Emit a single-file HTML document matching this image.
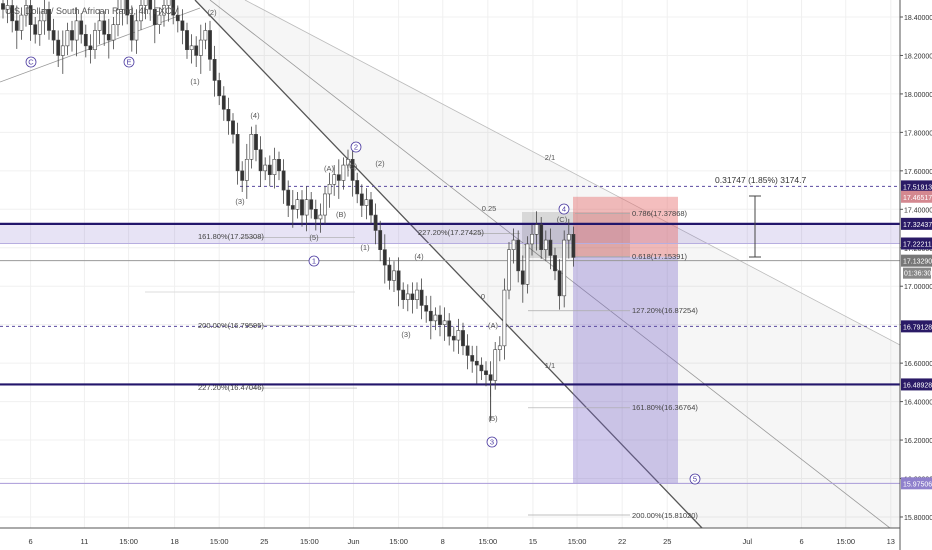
<!DOCTYPE html>
<html><head><meta charset="utf-8"><style>
html,body{margin:0;padding:0;background:#fff;}
svg{display:block;font-family:"Liberation Sans",sans-serif;}
</style></head><body>
<svg id="chart" width="932" height="550" xmlns="http://www.w3.org/2000/svg"></svg>
<script>
const closes=[18.44,18.46,18.38,18.33,18.41,18.46,18.36,18.31,18.38,18.44,18.33,
18.28,18.20,18.25,18.33,18.28,18.38,18.31,18.25,18.23,18.33,18.38,18.31,
18.28,18.36,18.44,18.49,18.41,18.28,18.38,18.46,18.49,18.44,18.36,18.41,
18.46,18.49,18.41,18.38,18.33,18.23,18.25,18.20,18.28,18.33,18.18,18.07,
17.99,17.92,17.86,17.79,17.60,17.55,17.66,17.79,17.71,17.60,17.63,17.58,
17.66,17.60,17.50,17.42,17.40,17.45,17.37,17.45,17.40,17.35,17.37,17.48,
17.53,17.58,17.55,17.63,17.66,17.55,17.48,17.42,17.45,17.37,17.29,17.19,
17.11,17.03,17.08,16.98,16.93,16.96,16.93,16.98,16.90,16.87,16.82,16.85,
16.80,16.82,16.74,16.72,16.77,16.69,16.64,16.61,16.59,16.56,16.54,16.51,
16.67,16.69,16.98,17.19,17.24,17.08,17.01,17.22,17.27,17.32,17.19,17.24,
17.16,17.08,16.95,17.24,17.27,17.15];
const wicks=[0.04,0.06,0.05,0.08,0.04,0.05,0.07,0.04,0.05,0.06];
const priceTicks=[18.4,18.2,18.0,17.8,17.6,17.4,17.2,17.0,16.8,16.6,16.4,16.2,16.0,15.8];
const timeLabels=["6","11","15:00","18","15:00","25","15:00","Jun","15:00","8","15:00","15","15:00","22","25","Jul","6","15:00","13"];
const timeIdx=[6,17.7,27.3,37.3,47,56.8,66.6,76.2,86,95.6,105.4,115.2,124.8,134.6,144.4,161.8,173.6,183.2,193];
const levels=[17.51913,17.46517,17.32437,17.22211,17.1329,16.79128,16.48928,15.97506];

const svg=document.getElementById('chart');
const NS='http://www.w3.org/2000/svg';
const PW=900;
const y=p=>17+(18.4-p)*192.3;
const xi=i=>3+i*4.6;
function mk(tag,attrs,name,parent){const e=document.createElementNS(NS,tag);for(const k in attrs)e.setAttribute(k,attrs[k]);


(parent||svg).appendChild(e);return e;}
function txt(s,x,yy,name,opt){const t=mk('text',Object.assign({x:x,y:yy,'font-size':8,fill:'#333'},opt||{}),name);t.textContent=s;return t;}

// grid
priceTicks.forEach(p=>mk('line',{x1:0,x2:PW,y1:y(p),y2:y(p),stroke:'#f0f0f0'},'grid-h'));
timeIdx.forEach(t=>mk('line',{x1:xi(t),x2:xi(t),y1:0,y2:528,stroke:'#f0f0f0'},'grid-v'));

// fan shading
mk('polygon',{points:'245,0 900,345 900,528 702,528 195,0',fill:'rgba(0,0,0,0.035)'},'fan-shade');
mk('line',{x1:195,y1:0,x2:702,y2:528,stroke:'#555','stroke-width':1.3},'trend-line-main');
mk('line',{x1:210,y1:0,x2:890,y2:528,stroke:'#999','stroke-width':0.8},'fan-line-1');
mk('line',{x1:245,y1:0,x2:900,y2:345,stroke:'#bbb','stroke-width':0.8},'fan-line-2');
mk('line',{x1:0,y1:82,x2:200,y2:8,stroke:'#999','stroke-width':0.8},'rising-line');

// band
mk('rect',{x:0,y:y(17.32437),width:PW,height:y(17.22211)-y(17.32437),fill:'rgba(120,100,200,0.18)'},'resistance-band');
// boxes
mk('rect',{x:522,y:212,width:108,height:46,fill:'rgba(0,0,0,0.12)'},'wave4-box');
mk('rect',{x:573,y:y(17.465),width:105,height:y(17.153)-y(17.465),fill:'rgba(230,110,110,0.45)'},'stop-zone');
mk('rect',{x:573,y:y(17.153),width:105,height:y(15.975)-y(17.153),fill:'rgba(120,100,200,0.35)'},'target-zone');

// level lines
mk('line',{x1:240,x2:PW,y1:y(17.51913),y2:y(17.51913),stroke:'#5a4aa0','stroke-dasharray':'3,3'},'level-17-519');
mk('line',{x1:0,x2:PW,y1:y(16.79128),y2:y(16.79128),stroke:'#5a4aa0','stroke-dasharray':'3,3'},'level-16-791');
mk('line',{x1:0,x2:PW,y1:y(17.1329),y2:y(17.1329),stroke:'#999'},'current-price-line');
mk('line',{x1:0,x2:PW,y1:y(15.97506),y2:y(15.97506),stroke:'#a99ad8'},'level-15-975');
mk('line',{x1:0,x2:PW,y1:y(17.32437),y2:y(17.32437),stroke:'#23166b','stroke-width':2.2},'level-17-324');
mk('line',{x1:0,x2:PW,y1:y(16.48928),y2:y(16.48928),stroke:'#23166b','stroke-width':2.2},'level-16-489');
mk('line',{x1:0,x2:PW,y1:y(17.22211),y2:y(17.22211),stroke:'#b7aee0'},'level-17-222');

// fib guide lines
[[17.25308,240,355],[16.79595,245,355],[16.47046,245,357],[17.27425,470,520],[17.37868,575,630],[17.15391,575,630],[16.87254,528,630],[16.36764,528,630],[15.81020,528,630]].forEach(a=>mk('line',{x1:a[1],x2:a[2],y1:y(a[0]),y2:y(a[0]),stroke:'#aaa','stroke-width':0.7},'fib-line'));
mk('line',{x1:145,x2:355,y1:y(16.97),y2:y(16.97),stroke:'#ddd'},'fib-zero-line');

// candles
closes.forEach((c,i)=>{const o=i?closes[i-1]:c+0.03;const w=wicks[i%wicks.length];
 const hi=Math.max(o,c)+w, lo=Math.min(o,c)-w*1.2;const x=xi(i);
 mk('line',{x1:x,x2:x,y1:y(hi),y2:y(lo),stroke:'#444','stroke-width':0.8},'candle-wick');
 const top=y(Math.max(o,c)),h=Math.max(1,Math.abs(y(o)-y(c)));
 mk('rect',{x:x-1.6,y:top,width:3.2,height:h,fill:c>=o?'#fff':'#333',stroke:'#444','stroke-width':0.6},'candle-body');
});
mk('line',{x1:xi(106),x2:xi(106),y1:y(16.51),y2:y(16.3),stroke:'#444'},'spike-wick');

// title
txt('U.S. Dollar / South African Rand, 4h, FXCM',5,14,'chart-title',{fill:'#555','font-size':9});

// labels
const labs=[['(2)',212,15],['(1)',195,84],['(4)',255,118],['(3)',240,204],['(A)',329,171],['(C)',352,169],['(2)',380,166],['(B)',341,217],['(5)',314,240],['(1)',365,250],['(4)',419,259],['(3)',406,337],['(A)',493,328],['(5)',493,421],['(C)',562,222],['0.25',489,211],['0',483,299],['2/1',550,160],['1/1',550,368]];
labs.forEach(l=>txt(l[0],l[1],l[2],'wave-label',{'font-size':7.5,fill:'#555','text-anchor':'middle'}));
[['161.80%(17.25308)',198,239],['227.20%(17.27425)',418,235],['200.00%(16.79595)',198,328],['227.20%(16.47046)',198,390],['0.786(17.37868)',632,216],['0.618(17.15391)',632,259],['127.20%(16.87254)',632,313],['161.80%(16.36764)',632,410],['200.00%(15.81020)',632,518]].forEach(l=>txt(l[0],l[1],l[2],'fib-label',{'font-size':7.5,fill:'#444'}));
[['C',31,62],['E',129,62],['2',356,147],['1',314,261],['3',492,442],['4',564,209],['5',695,479]].forEach(c=>{
 mk('circle',{cx:c[1],cy:c[2],r:5,fill:'#fff',stroke:'#4b3aa0','stroke-width':0.8},'wave-circle');
 txt(c[0],c[1],c[2]+2.7,'wave-circle-label',{'font-size':7.5,fill:'#4b3aa0','text-anchor':'middle'});});

// measure
mk('line',{x1:755,x2:755,y1:196,y2:257,stroke:'#444'},'measure-line');
mk('line',{x1:749,x2:761,y1:196,y2:196,stroke:'#444'},'measure-cap');
mk('line',{x1:749,x2:761,y1:257,y2:257,stroke:'#444'},'measure-cap');
txt('0.31747 (1.85%) 3174.7',715,183,'measure-label',{'font-size':8.5});

// axes
mk('rect',{x:0,y:528,width:932,height:22,fill:'#fff'},'time-axis-bg');
mk('rect',{x:PW,y:0,width:32,height:550,fill:'#fff'},'price-axis-bg');
mk('line',{x1:PW,x2:PW,y1:0,y2:550,stroke:'#555'},'price-axis-line');
mk('line',{x1:0,x2:PW,y1:528,y2:528,stroke:'#555'},'time-axis-line');
priceTicks.forEach(p=>{mk('line',{x1:PW,x2:PW+3,y1:y(p),y2:y(p),stroke:'#555'},'price-tick');
 txt(p.toFixed(5),PW+4,y(p)+3,'price-tick-label',{'font-size':7,fill:'#333'});});
timeLabels.forEach((s,k)=>txt(s,xi(timeIdx[k]),544,'time-tick-label',{'font-size':7.5,fill:'#333','text-anchor':'middle'}));
const boxCol=['#2a1a66','#d48890','#2a1a66','#2a1a66','#777','#2a1a66','#2a1a66','#8f80cc'];
levels.forEach((p,k)=>{mk('rect',{x:PW+1,y:y(p)-6,width:31,height:12,fill:boxCol[k]},'price-label-box');
 txt(p.toFixed(5),PW+3,y(p)+3,'price-level-label',{'font-size':7,fill:'#fff'});});
mk('rect',{x:PW+3,y:y(17.1329)+7,width:28,height:11,fill:'#888'},'countdown-box');
txt('01:36:30',PW+4,y(17.1329)+15,'countdown-label',{'font-size':7,fill:'#fff'});
</script>
</body></html>
